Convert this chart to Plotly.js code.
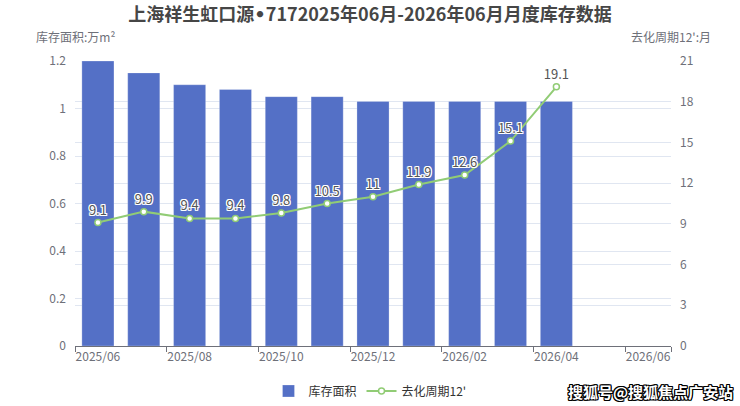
<!DOCTYPE html>
<html>
<head>
<meta charset="utf-8">
<script src="https://cdn.plot.ly/plotly-3.0.1.min.js"></script>
<style>
html,body{margin:0;padding:0;background:#fff;}
#chart{width:740px;height:406px;}
</style>
</head>
<body>
<div id="chart"></div>
<script>
const months = ["2025/06","2025/07","2025/08","2025/09","2025/10","2025/11","2025/12","2026/01","2026/02","2026/03","2026/04","2026/05","2026/06"];
const inventory = [1.2, 1.15, 1.1, 1.08, 1.05, 1.05, 1.03, 1.03, 1.03, 1.03, 1.03];
const cycle = [9.1, 9.9, 9.4, 9.4, 9.8, 10.5, 11, 11.9, 12.6, 15.1, 19.1];
const tickMonths = ["2025/06","2025/08","2025/10","2025/12","2026/02","2026/04","2026/06"];

const FONT = '"Noto Sans CJK SC", "Noto Sans", sans-serif';
const outline = '1px 1px 0 #fff, -1px -1px 0 #fff, 1px -1px 0 #fff, -1px 1px 0 #fff, 0 1px 0 #fff, 0 -1px 0 #fff, 1px 0 0 #fff, -1px 0 0 #fff';

const barTrace = {
  type: 'bar',
  name: '库存面积',
  x: months.slice(0, inventory.length),
  y: inventory,
  width: 0.7,
  marker: {color: '#5470c6', line: {color: 'rgba(255,255,255,0.5)', width: 0.5}},
  hoverinfo: 'none'
};
const lineTrace = {
  type: 'scatter',
  mode: 'lines+markers+text',
  name: '去化周期12\'',
  x: months.slice(0, cycle.length),
  y: cycle,
  yaxis: 'y2',
  line: {color: '#91cc75', width: 2},
  marker: {symbol: 'circle', size: 6, color: '#ffffff', line: {color: '#91cc75', width: 1.5}},
  text: cycle.map(String),
  textposition: 'top center',
  textfont: {family: FONT, size: 13, color: '#555', shadow: outline},
  cliponaxis: false,
  hoverinfo: 'none'
};

const layout = {
  width: 740, height: 406,
  margin: {l: 75, r: 69, t: 61, b: 60, autoexpand: false},
  paper_bgcolor: '#fff', plot_bgcolor: '#fff',
  font: {family: FONT, size: 12, color: '#6e7079'},
  title: {text: '<b>上海祥生虹口源<span style="font-family:\'DejaVu Sans\'">•</span>7172025年06月-2026年06月月度库存数据</b>', x: 0.5, xanchor: 'center', y: 0.963, yanchor: 'middle', yref: 'container', font: {family: FONT, size: 18, color: '#464646'}},
  showlegend: true,
  legend: {orientation: 'h', x: 0.5, xanchor: 'center', xref: 'container', y: 0.037, yanchor: 'middle', yref: 'container', font: {family: FONT, size: 12, color: '#333'}, itemwidth: 30},
  xaxis: {
    type: 'category',
    categoryorder: 'array', categoryarray: months,
    range: [-0.5, months.length - 0.5],
    tickmode: 'array', tickvals: tickMonths, ticktext: tickMonths,
    tickson: 'boundaries', tickangle: 0,
    ticks: 'outside', ticklen: 5, tickcolor: '#6e7079',
    showline: true, linecolor: '#6e7079', linewidth: 1,
    showgrid: false, zeroline: false,
    tickfont: {family: FONT, size: 12, color: '#6e7079'},
    automargin: false,
    fixedrange: true
  },
  yaxis: {
    range: [0, 1.2], dtick: 0.2, tick0: 0,
    showgrid: true, gridcolor: '#e0e6f1', gridwidth: 1,
    zeroline: false, showline: false, ticks: '',
    tickfont: {family: FONT, size: 12, color: '#6e7079'},
    ticklabelstandoff: 8, automargin: false,
    fixedrange: true
  },
  yaxis2: {
    overlaying: 'y', side: 'right',
    range: [0, 21], dtick: 3, tick0: 0,
    showgrid: true, gridcolor: '#e0e6f1', gridwidth: 1,
    zeroline: false, showline: false, ticks: '',
    tickfont: {family: FONT, size: 12, color: '#6e7079'},
    ticklabelstandoff: 8, automargin: false,
    fixedrange: true
  },
  annotations: [
    {text: '库存面积:万m²', xref: 'paper', yref: 'paper', x: 0, y: 1, xanchor: 'center', yanchor: 'bottom', yshift: 14, showarrow: false, font: {family: FONT, size: 12, color: '#6e7079'}},
    {text: '去化周期12\':月', xref: 'paper', yref: 'paper', x: 1, y: 1, xanchor: 'center', yanchor: 'bottom', yshift: 14, showarrow: false, font: {family: FONT, size: 12, color: '#6e7079'}},
    {text: '<b>搜狐号@搜狐焦点广安站</b>', xref: 'paper', yref: 'paper', x: 1, y: 0, xanchor: 'right', yanchor: 'middle', xshift: 64, yshift: -45, showarrow: false, font: {family: FONT, size: 15, color: '#fff', shadow: '1px 1px 0 #000, -1px -1px 0 #000, 1px -1px 0 #000, -1px 1px 0 #000, 0 1px 0 #000, 0 -1px 0 #000, 1px 0 0 #000, -1px 0 0 #000'}}
  ]
};

Plotly.newPlot('chart', [barTrace, lineTrace], layout, {displayModeBar: false, staticPlot: true});
</script>
</body>
</html>
